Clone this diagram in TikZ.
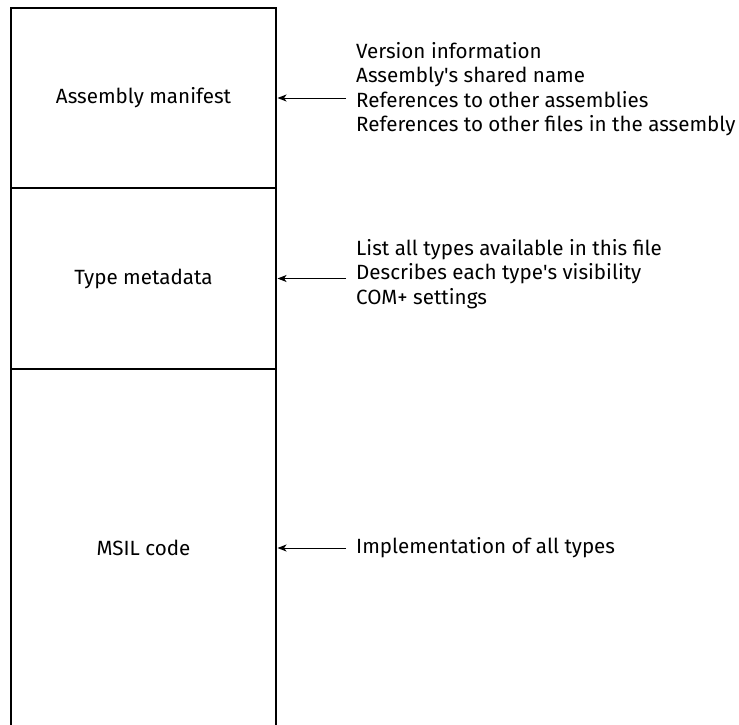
\documentclass[tikz,border=0pt]{standalone}
\usepackage{fontspec}
\setmainfont{Fira Sans}
\usetikzlibrary{arrows.meta}
\begin{document}
\begin{tikzpicture}[x=1pt,y=-1pt,
  sect/.style={draw,line width=1.1pt,minimum width=265pt,inner sep=0pt,font=\fontsize{20.6}{24.5}\selectfont},
  info/.style={anchor=west,align=left,inner xsep=10pt,inner ysep=0pt,font=\fontsize{20.6}{24.5}\selectfont},
  pointer/.style={-{Stealth[length=9pt,width=7pt,inset=2.5pt]},line width=1pt,shorten >=1pt}]
\useasboundingbox (0,0) rectangle (739,725);
\node[sect,minimum height=180pt] (man) at (143.5,98) {Assembly manifest};
\node[sect,minimum height=181pt] (meta) at (143.5,278.5) {Type metadata};
\node[sect,minimum height=358pt] (msil) at (143.5,548) {MSIL code};
\node[info] (g1) at (346,89) {Version information\\Assembly\textquotesingle s shared name\\References to other assemblies\\References to other files in the assembly};
\node[info] (g2) at (346,274) {List all types available in this file\\Describes each type\textquotesingle s visibility\\COM+ settings};
\node[info] (g3) at (346,548) {Implementation of all types};
\draw[pointer] (g1.west |- man.east) -- (man.east);
\draw[pointer] (g2.west |- meta.east) -- (meta.east);
\draw[pointer] (g3.west |- msil.east) -- (msil.east);
\end{tikzpicture}
\end{document}
